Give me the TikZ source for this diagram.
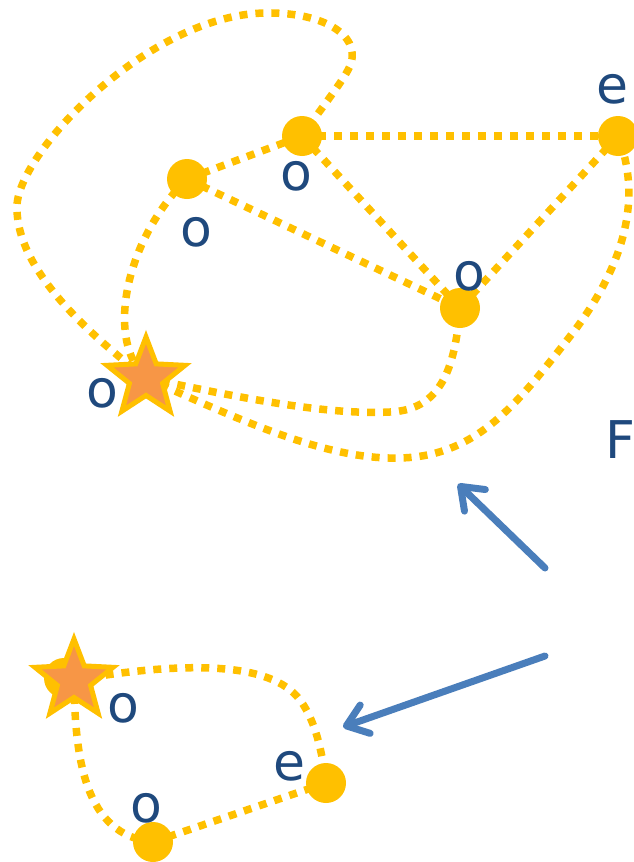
\documentclass[tikz,border=0pt]{standalone}
\usepackage{fontspec}
\setmainfont{DejaVu Sans}
\usetikzlibrary{shapes.geometric,arrows.meta,backgrounds}
\definecolor{gold}{HTML}{FFC000}
\definecolor{peach}{HTML}{F79646}
\definecolor{steel}{HTML}{4A7EBB}
\definecolor{ink}{HTML}{1F497D}
\tikzset{
  vert/.style={circle,fill=gold,inner sep=0pt,minimum size=40pt},
  startvert/.style={star,star points=5,star point ratio=2.35,fill=peach,draw=gold,
    line width=5pt,inner sep=0pt,minimum size=82pt},
  lbl/.style={text=ink,inner sep=0pt,font=\fontsize{52}{56}\selectfont},
  link/.style={draw=gold,line width=7.5pt,dash pattern=on 8pt off 8pt},
  move/.style={draw=steel,line width=7pt,line cap=round,
    -{Straight Barb[length=20pt,width=30pt,line cap=round,line join=round]}}
}
\begin{document}
\begin{tikzpicture}[x=1pt,y=-1pt]
\useasboundingbox (0,0) rectangle (634,862);

% upper graph
\node[vert] (a) at (187,179) {};
\node[vert] (b) at (302,136) {};
\node[vert] (c) at (618,136) {};
\node[vert] (d) at (460,308) {};
\node[startvert] (s) at (146,378) {};

\node[lbl] (la) at (196,232) {o};
\node[lbl] (lb) at (296,176) {o};
\node[lbl] (lc) at (612,89) {e};
\node[lbl] (ld) at (469,276) {o};
\node[lbl] (ls) at (102,393) {o};
\node[lbl] (lf) at (620,440) {F};

% lower graph
\node[vert] (u) at (64,678) {};
\node[startvert] (s2) at (74,680) {};
\node[vert] (e) at (326,783) {};
\node[vert] (g) at (153,842) {};

\node[lbl] (ls2) at (123,708) {o};
\node[lbl] (le) at (289,766) {e};
\node[lbl] (lg) at (146,808) {o};

% anchors of the two arrows
\coordinate (p1) at (545,568);
\coordinate (q1) at (458,484);
\coordinate (p2) at (545,656);
\coordinate (q2) at (343,727);

\begin{pgfonlayer}{background}
  % straight links
  \path[link] (a.center) -- (b.center);
  \path[link] (b.center) -- (c.center);
  \path[link] (b.center) -- (d.center);
  \path[link] (a.center) -- (d.center);
  \path[link] (c.center) -- (d.center);
  % curved links
  \path[link] (a.center) .. controls (125,240) and (105,340) .. (s.center);
  \path[link] (s.center) .. controls (70,320) and (15,260) .. (17,205)
                         .. controls (20,150) and (150,15) .. (265,13)
                         .. controls (330,12) and (365,40) .. (348,70)
                         .. controls (340,85) and (320,110) .. (b.center);
  \path[link] (s.center) .. controls (250,400) and (330,415) .. (390,412)
                         .. controls (440,410) and (455,370) .. (d.center);
  \path[link] (s.center) .. controls (250,425) and (330,460) .. (400,458)
                         .. controls (480,456) and (520,400) .. (575,330)
                         .. controls (618,272) and (645,205) .. (c.center);
  % lower links
  \path[link] (s2.center) .. controls (180,662) and (270,660) .. (300,700)
                          .. controls (315,720) and (322,750) .. (e.center);
  \path[link] (s2.center) .. controls (75,760) and (85,835) .. (g.center);
  \path[link] (g.center) -- (e.center);
\end{pgfonlayer}

% arrows
\draw[move] (p1) -- (q1);
\draw[move] (p2) -- (q2);
\end{tikzpicture}
\end{document}
